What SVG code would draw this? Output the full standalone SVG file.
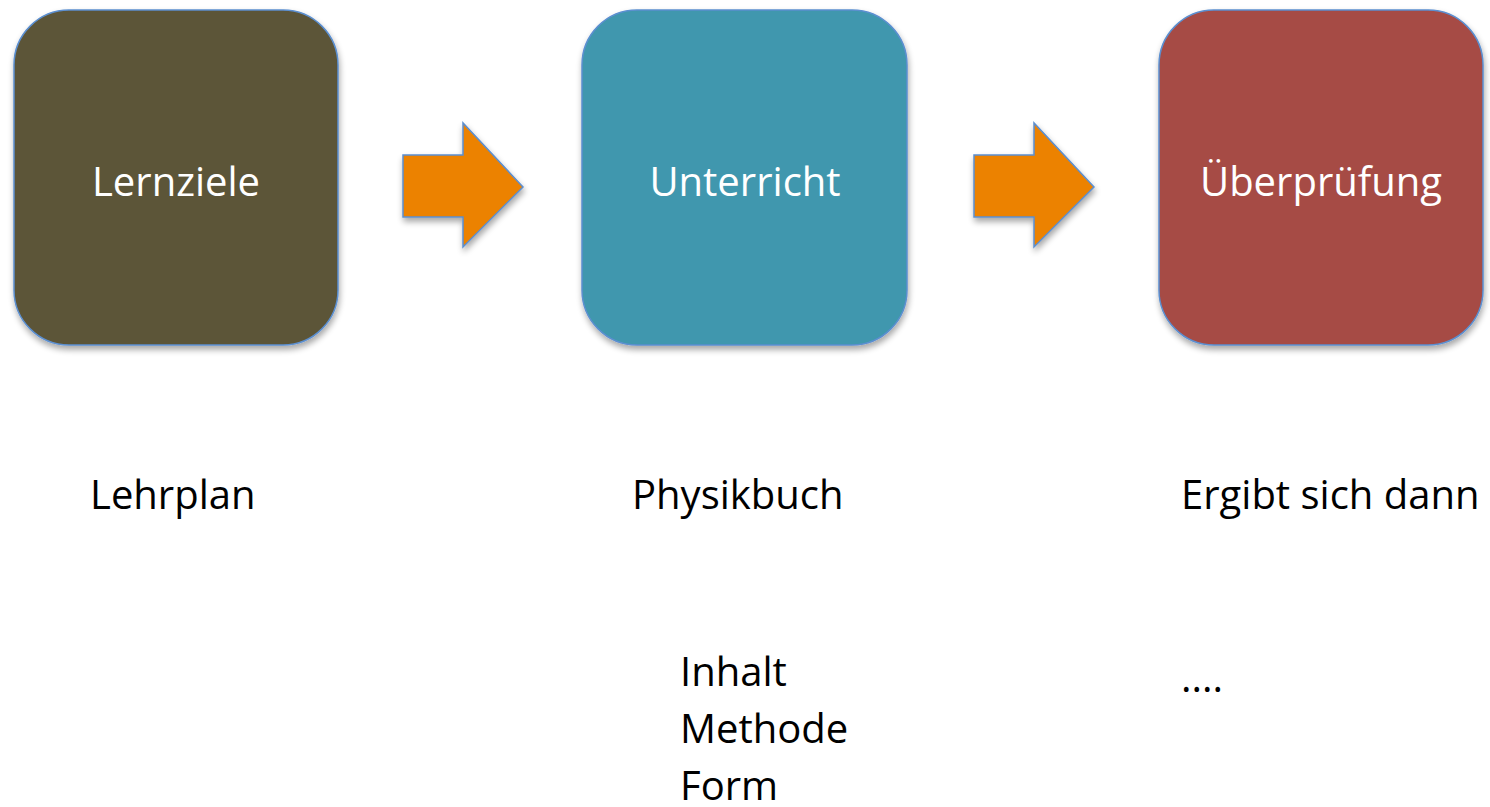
<svg xmlns="http://www.w3.org/2000/svg" width="1490" height="807" viewBox="0 0 1490 807">
<defs>
<filter id="sh" x="-10%" y="-10%" width="120%" height="125%">
<feGaussianBlur in="SourceAlpha" stdDeviation="3"/>
<feOffset dx="1" dy="4" result="b"/>
<feComponentTransfer><feFuncA type="linear" slope="0.35"/></feComponentTransfer>
<feMerge><feMergeNode/><feMergeNode in="SourceGraphic"/></feMerge>
</filter>
<style>
.box{stroke:#5b8fd0;stroke-width:1.5}
.bt{font-family:"Open Sans","Noto Sans",sans-serif;font-size:40px;fill:#ffffff;text-anchor:middle}
.t{font-family:"Open Sans","Noto Sans",sans-serif;font-size:40px;fill:#000000}
.arr{fill:#ec8206;stroke:#5b8fd0;stroke-width:1.5}
</style>
</defs>
<rect width="1490" height="807" fill="#ffffff"/>
<g id="connectors">
<path class="arr" filter="url(#sh)" d="M403,155 L463,155 L463,123 L523,187 L463,247 L463,217 L403,217 Z"/>
<path class="arr" filter="url(#sh)" d="M974,155 L1034,155 L1034,123 L1094,187 L1034,247 L1034,217 L974,217 Z"/>
</g>
<g id="lernziele">
<rect class="box" filter="url(#sh)" x="14" y="10" width="324" height="335" rx="55" fill="#5c5539"/>
<text class="bt" x="176" y="196">Lernziele</text>
</g>
<g id="unterricht">
<rect class="box" filter="url(#sh)" x="582" y="10" width="325" height="335" rx="55" fill="#3f97ae"/>
<text class="bt" x="745" y="196">Unterricht</text>
</g>
<g id="ueberpruefung">
<rect class="box" filter="url(#sh)" x="1159" y="10" width="324" height="335" rx="55" fill="#a64b44"/>
<text class="bt" x="1321" y="196">Überprüfung</text>
</g>
<g id="labels">
<text class="t" x="90" y="509">Lehrplan</text>
<text class="t" x="632" y="509">Physikbuch</text>
<text class="t" x="1181" y="509">Ergibt sich dann</text>
<text class="t" x="680" y="686">Inhalt</text>
<text class="t" x="680" y="743">Methode</text>
<text class="t" x="680" y="800">Form</text>
<text class="t" x="1181" y="692">....</text>
</g>
</svg>
